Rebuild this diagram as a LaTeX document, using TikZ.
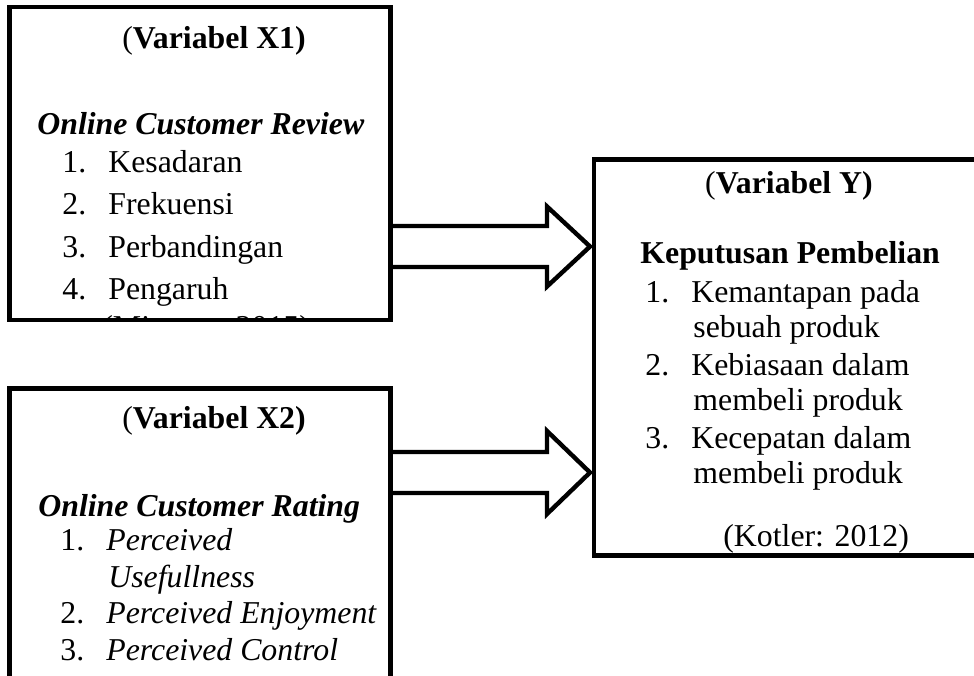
\documentclass[tikz,border=0pt]{standalone}
\usepackage{fontspec}
\setmainfont{Liberation Serif}
\usetikzlibrary{calc}

\newcommand{\fs}{\fontsize{15.9pt}{19pt}\selectfont}
\newcommand{\itm}[2]{\makebox[23pt][l]{#1}#2}

\begin{document}
\begin{tikzpicture}[x=0.5pt,y=-0.5pt,font=\fs,
    varbox/.style={draw,line width=2.2pt,inner sep=0pt,outer sep=0pt},
    txt/.style={anchor=base west,inner sep=0pt},
    ttl/.style={anchor=base,inner sep=0pt},
    sub/.style={anchor=base west,inner sep=0pt,font=\fs\bfseries\itshape},
    blockarrow/.style={line width=2.2pt,line join=miter}]

    \useasboundingbox (0,0) rectangle (974,675);
    \clip (0,0) rectangle (974,675);

    % the three boxes
    \node[varbox,minimum width=190.5pt,minimum height=156.5pt] (x1) at (200,163.5) {};
    \node[varbox,minimum width=190.5pt,minimum height=165.75pt] (x2) at (200,554.25) {};
    \node[varbox,minimum width=198pt,minimum height=198pt] (y) at (792,357.5) {};

    % X1
    \node[ttl] (x1t) at (214,48) {(\textbf{Variabel X1)}};
    \node[sub] (x1s) at (37,134) {Online Customer Review};
    \node[txt] (x1a) at (62,172) {\itm{1.}{Kesadaran}};
    \node[txt] (x1b) at (62,214) {\itm{2.}{Frekuensi}};
    \node[txt] (x1c) at (62,257) {\itm{3.}{Perbandingan}};
    \node[txt] (x1d) at (62,299) {\itm{4.}{Pengaruh}};
    \begin{scope}
        \clip (x1.south west) rectangle (x1.north east);
        \node[txt] (x1r) at (102,337.5) {(Mirawan 2015)};
    \end{scope}

    % X2
    \node[ttl] (x2t) at (214,428) {(\textbf{Variabel X2)}};
    \node[sub] (x2s) at (38,516) {Online Customer Rating};
    \node[txt] (x2a) at (60,550) {\itm{1.}{\textit{Perceived}}};
    \node[txt] (x2b) at (108,587) {\textit{Usefullness}};
    \node[txt] (x2c) at (60,623) {\itm{2.}{\textit{Perceived Enjoyment}}};
    \node[txt] (x2d) at (60,660) {\itm{3.}{\textit{Perceived Control}}};

    % Y
    \node[ttl] (yt) at (789,193) {(\textbf{Variabel Y)}};
    \node[txt,font=\fs\bfseries] (ys) at (640,263) {Keputusan Pembelian};
    \node[txt] (ya) at (645,302) {\itm{1.}{Kemantapan pada}};
    \node[txt] (ya2) at (693,337) {sebuah produk};
    \node[txt] (yb) at (645,375) {\itm{2.}{Kebiasaan dalam}};
    \node[txt] (yb2) at (693,410) {membeli produk};
    \node[txt] (yc) at (645,448) {\itm{3.}{Kecepatan dalam}};
    \node[txt] (yc2) at (693,483) {membeli produk};
    \node[txt] (yr) at (723,546) {(Kotler: 2012)};

    % block arrows
    \coordinate (m1) at (0,246.5);
    \coordinate (m2) at (0,472.5);
    \draw[blockarrow] (x1.east |- 0,226) -- (547,226) -- (547,206.5)
        -- ($(y.west |- m1)+(-4,0)$) -- (547,286.5) -- (547,267) -- (x1.east |- 0,267);
    \draw[blockarrow] (x2.east |- 0,452) -- (547,452) -- (547,431)
        -- ($(y.west |- m2)+(-4,0)$) -- (547,514) -- (547,493) -- (x2.east |- 0,493);
    % \draw [->] (x1) -- (y);
\end{tikzpicture}
\end{document}
